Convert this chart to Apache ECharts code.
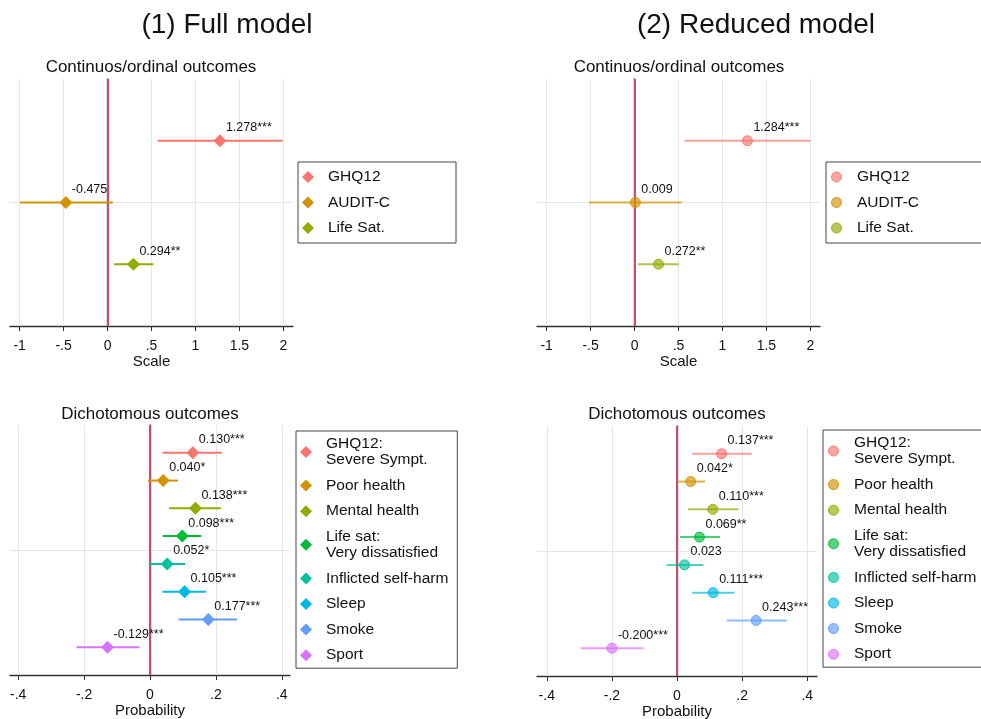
<!DOCTYPE html>
<html>
<head>
<meta charset="utf-8">
<title>Full vs reduced model</title>
<script src="https://cdn.jsdelivr.net/npm/echarts@6/dist/echarts.min.js"></script>
<style>
  html, body { margin: 0; padding: 0; background: #fff; }
  #main { width: 981px; height: 719px; }
</style>
</head>
<body>
<div id="main"></div>
<script>
// outcomes
const contNames = ['GHQ12', 'AUDIT-C', 'Life Sat.'];
const dichNames = ['GHQ12:\nSevere Sympt.', 'Poor health', 'Mental health', 'Life sat:\nVery dissatisfied',
    'Inflicted self-harm', 'Sleep', 'Smoke', 'Sport'];

// (1) full model
const fullContEst = [1.278, -0.475, 0.294];
const fullContLo = [0.57, -0.995, 0.075];
const fullContHi = [1.99, 0.06, 0.52];
const fullContStars = ['***', '', '**'];
const fullDichEst = [0.130, 0.040, 0.138, 0.098, 0.052, 0.105, 0.177, -0.129];
const fullDichLo = [0.038, -0.006, 0.058, 0.039, -0.004, 0.038, 0.087, -0.223];
const fullDichHi = [0.218, 0.085, 0.215, 0.155, 0.107, 0.170, 0.264, -0.032];
const fullDichStars = ['***', '*', '***', '***', '*', '***', '***', '***'];

// (2) reduced model
const redContEst = [1.284, 0.009, 0.272];
const redContLo = [0.57, -0.52, 0.04];
const redContHi = [2.0, 0.535, 0.505];
const redContStars = ['***', '', '**'];
const redDichEst = [0.137, 0.042, 0.110, 0.069, 0.023, 0.111, 0.243, -0.200];
const redDichLo = [0.047, 0.001, 0.033, 0.009, -0.032, 0.047, 0.153, -0.296];
const redDichHi = [0.229, 0.086, 0.188, 0.132, 0.081, 0.176, 0.337, -0.103];
const redDichStars = ['***', '*', '***', '**', '', '***', '***', '***'];

// tick labels
const scaleTicks = [-1, -0.5, 0, 0.5, 1, 1.5, 2];
const probTicks = [-0.4, -0.2, 0, 0.2, 0.4];

const colors = ['#F8766D', '#D39200', '#93AA00', '#00BA38', '#00C19F', '#00B9E3', '#619CFF', '#DB72FB'];
const FONT = '"Liberation Sans", Arial, sans-serif';

function rgba(hex, a) {
    const n = parseInt(hex.slice(1), 16);
    return 'rgba(' + (n >> 16) + ',' + ((n >> 8) & 255) + ',' + (n & 255) + ',' + a + ')';
}
// stata style: -.5, .2
function stataFmt(v) {
    return String(v).replace(/^(-?)0\./, '$1.');
}

var chartDom = document.getElementById('main');
var myChart = echarts.init(chartDom);

const panels = [
    { names: contNames, est: fullContEst, lo: fullContLo, hi: fullContHi, stars: fullContStars,
      grid: { left: 10, top: 79, width: 283, height: 247 }, min: -1.11, max: 2.11, ticks: scaleTicks,
      yMax: 4, axisName: 'Scale', reduced: false },
    { names: contNames, est: redContEst, lo: redContLo, hi: redContHi, stars: redContStars,
      grid: { left: 537, top: 79, width: 283, height: 247 }, min: -1.11, max: 2.11, ticks: scaleTicks,
      yMax: 4, axisName: 'Scale', reduced: true },
    { names: dichNames, est: fullDichEst, lo: fullDichLo, hi: fullDichHi, stars: fullDichStars,
      grid: { left: 10, top: 425, width: 280, height: 250 }, min: -0.425, max: 0.425, ticks: probTicks,
      yMax: 9, axisName: 'Probability', reduced: false },
    { names: dichNames, est: redDichEst, lo: redDichLo, hi: redDichHi, stars: redDichStars,
      grid: { left: 537, top: 426, width: 280, height: 250 }, min: -0.43, max: 0.43, ticks: probTicks,
      yMax: 9, axisName: 'Probability', reduced: true }
];

const grids = [], xAxes = [], yAxes = [], series = [];

panels.forEach((p, pi) => {
    grids.push(Object.assign({ outerBoundsMode: 'none', containLabel: false }, p.grid));
    xAxes.push({
        type: 'value', gridIndex: pi, min: p.min, max: p.max,
        name: p.axisName, nameLocation: 'middle', nameGap: 28,
        nameTextStyle: { fontSize: 15, color: '#111', fontFamily: FONT },
        axisLine: { show: true, lineStyle: { color: '#333', width: 1.3 } },
        axisTick: { show: true, length: 5, customValues: p.ticks, lineStyle: { color: '#333' } },
        axisLabel: { customValues: p.ticks, formatter: stataFmt, fontSize: 14, color: '#111',
            margin: 13, fontFamily: FONT },
        splitLine: { show: false }
    });
    yAxes.push({
        type: 'value', gridIndex: pi, min: 0, max: p.yMax,
        axisLine: { show: true, lineStyle: { color: '#333', width: 1.3 } },
        axisTick: { show: false }, axisLabel: { show: false }, splitLine: { show: false }
    });

    const n = p.names.length;
    const alpha = p.reduced ? 0.7 : 1;
    const ciData = p.names.map((name, i) => [p.lo[i], p.hi[i], n - i, i]);
    const lines = p.ticks.map(v => ({ xAxis: v }));
    lines.push({ yAxis: p.yMax / 2 });
    lines.push({ xAxis: 0, lineStyle: { color: '#C8234E', width: 1.6, type: 'solid' } });

    series.push({
        type: 'custom', xAxisIndex: pi, yAxisIndex: pi, z: 3, silent: true,
        encode: { x: [0, 1], y: 2 },
        data: ciData,
        renderItem: function (params, api) {
            const a = api.coord([api.value(0), api.value(2)]);
            const b = api.coord([api.value(1), api.value(2)]);
            return {
                type: 'line',
                shape: { x1: a[0], y1: a[1], x2: b[0], y2: b[1] },
                style: { stroke: rgba(colors[api.value(3)], alpha), lineWidth: 2 }
            };
        },
        markLine: {
            silent: true, symbol: ['none', 'none'], z: 1,
            label: { show: false },
            lineStyle: { color: '#e6e6e6', width: 1, type: 'solid' },
            emphasis: { disabled: true },
            data: lines
        }
    });

    p.names.forEach((name, i) => {
        series.push({
            name: name, type: 'scatter', xAxisIndex: pi, yAxisIndex: pi, z: 4,
            symbol: p.reduced ? 'circle' : 'diamond',
            symbolSize: p.reduced ? 10 : 13,
            itemStyle: p.reduced
                ? { color: rgba(colors[i], 0.65), borderColor: rgba(colors[i], 0.9), borderWidth: 1, opacity: 1 }
                : { color: colors[i], opacity: 1 },
            label: {
                show: true, position: 'inside', align: 'left', verticalAlign: 'middle',
                offset: [6, -13], fontSize: 12.5, color: '#111', fontFamily: FONT,
                textBorderWidth: 0, textBorderColor: 'transparent',
                formatter: p.est[i].toFixed(3) + p.stars[i]
            },
            emphasis: { disabled: true },
            data: [[p.est[i], n - i]]
        });
    });
});

function makeLegend(names, reduced, left, top, padding, gap) {
    return {
        orient: 'vertical', left: left, top: top, padding: padding, itemGap: gap,
        itemWidth: reduced ? 10 : 12, itemHeight: reduced ? 10 : 12,
        borderColor: '#444', borderWidth: 1, backgroundColor: '#fff',
        selectedMode: false,
        textStyle: { fontSize: 15.5, lineHeight: 16, color: '#111', fontFamily: FONT,
            padding: [0, 0, 0, reduced ? 10.5 : 9] },
        data: names.map((name, i) => ({
            name: name,
            icon: reduced ? 'circle' : 'diamond',
            itemStyle: reduced
                ? { color: rgba(colors[i], 0.65), borderColor: rgba(colors[i], 0.9), borderWidth: 1, opacity: 1 }
                : { color: colors[i], borderWidth: 0, opacity: 1 }
        }))
    };
}

const titleStyle = { fontSize: 17, fontWeight: 'normal', color: '#111', fontFamily: FONT };
const mainStyle = { fontSize: 28, fontWeight: 'normal', color: '#111', fontFamily: FONT };

var option = {
    animation: false,
    backgroundColor: '#fff',
    title: [
        { text: '(1) Full model', left: 227, top: 11, textAlign: 'center', padding: 0, textStyle: mainStyle },
        { text: '(2) Reduced model', left: 756, top: 11, textAlign: 'center', padding: 0, textStyle: mainStyle },
        { text: 'Continuos/ordinal outcomes', left: 151, top: 59, textAlign: 'center', padding: 0, textStyle: titleStyle },
        { text: 'Continuos/ordinal outcomes', left: 679, top: 59, textAlign: 'center', padding: 0, textStyle: titleStyle },
        { text: 'Dichotomous outcomes', left: 150, top: 406, textAlign: 'center', padding: 0, textStyle: titleStyle },
        { text: 'Dichotomous outcomes', left: 677, top: 406, textAlign: 'center', padding: 0, textStyle: titleStyle }
    ],
    legend: [
        makeLegend(contNames, false, 298, 162, [7, 66, 7, 4], 9.5),
        makeLegend(contNames, true, 826, 162, [7, 66, 7, 5], 9.5),
        makeLegend(dichNames, false, 296, 431, [5, 9, 5, 4], 9.6),
        makeLegend(dichNames, true, 823, 430, [5, 9, 5, 5], 9.6)
    ],
    grid: grids,
    xAxis: xAxes,
    yAxis: yAxes,
    series: series
};

myChart.setOption(option);
</script>
</body>
</html>
